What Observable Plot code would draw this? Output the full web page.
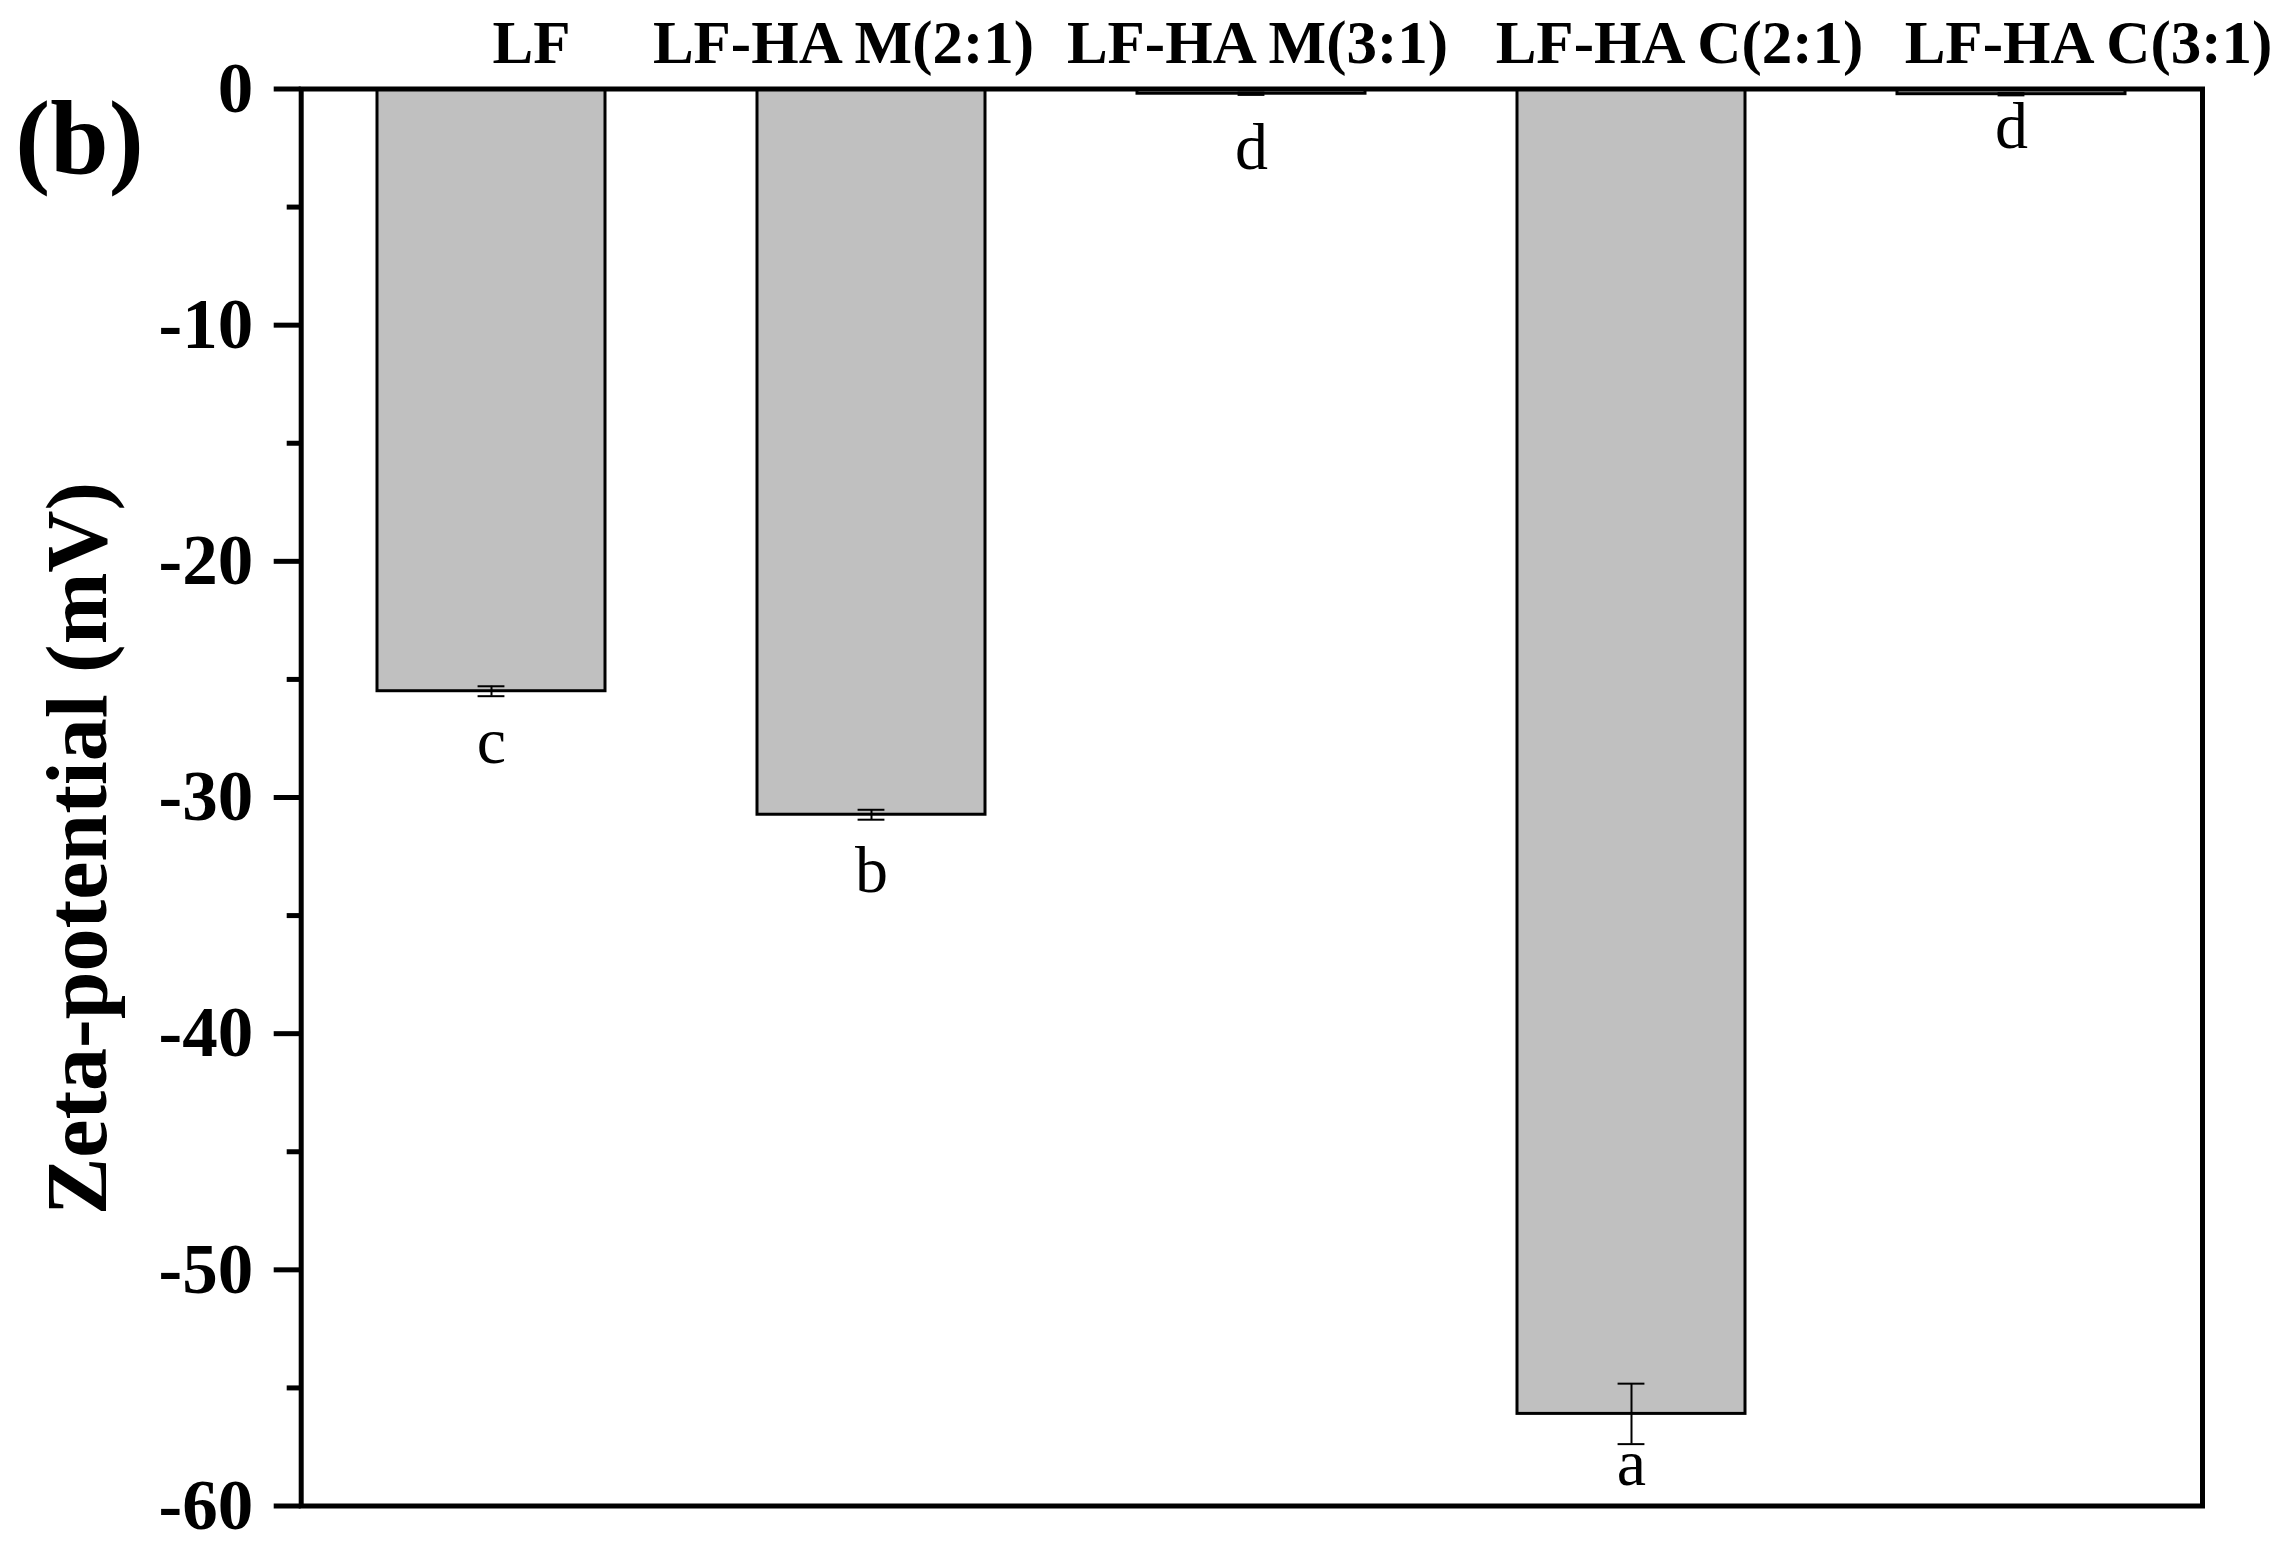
<!DOCTYPE html>
<html><head><meta charset="utf-8">
<script src="https://cdn.jsdelivr.net/npm/d3@7"></script>
<script src="https://cdn.jsdelivr.net/npm/@observablehq/plot@0.6"></script>
<style>html,body{margin:0;padding:0;background:#fff;}</style>
</head><body><div id="chart"></div>
<script>
// ---- data ----
const categories = ["LF", "LF-HA M(2:1)", "LF-HA M(3:1)", "LF-HA C(2:1)", "LF-HA C(3:1)"];
const zeta = [-25.5, -30.73, -0.2, -56.1, -0.22];
const errors = [0.21, 0.21, 0.05, 1.28, 0.05];
const letters = ["c", "b", "d", "a", "d"];
const letterY = [-28.56, -34.02, -3.37, -59.12, -2.48];   // baseline of each significance letter (data units)
const yTicks = [0, -10, -20, -30, -40, -50, -60];
const yMinorTicks = [-5, -15, -25, -35, -45, -55];
const yTitle = "Zeta-potential (mV)";
const panelLabel = "(b)";

const data = categories.map((c, i) => ({cat: c, v: zeta[i], e: errors[i], letter: letters[i], ly: letterY[i]}));

// ---- layout ----
const W = 2285, H = 1542, ML = 300.7, MR = 83, MT = 88.5, MB = 36.5;
const labelDx = [40, -28, 6, 48, 77];
const serif = "'Liberation Serif', 'Times New Roman', serif";
const bw = (W - ML - MR) / 5 * 0.6;
const capW = 27;
const inset = (bw - capW) / 2;

const chart = Plot.plot({
  width: W, height: H,
  marginLeft: ML, marginRight: MR, marginTop: MT, marginBottom: MB,
  style: {fontFamily: serif, background: "#fff", color: "#000", overflow: "visible"},
  x: {domain: categories, paddingInner: 0.4, paddingOuter: 0.2, axis: null},
  y: {domain: [-60, 0]},
  marks: [
    Plot.barY(data, {x: "cat", y: "v", fill: "#c0c0c0", stroke: "#000", strokeWidth: 3}),
    Plot.ruleX(data, {x: "cat", y1: d => d.v - d.e, y2: d => d.v + d.e, stroke: "#000", strokeWidth: 2}),
    Plot.tickY(data, {x: "cat", y: d => d.v - d.e, insetLeft: inset, insetRight: inset, stroke: "#000", strokeWidth: 2}),
    Plot.tickY(data, {x: "cat", y: d => d.v + d.e, insetLeft: inset, insetRight: inset, stroke: "#000", strokeWidth: 2}),
    Plot.text(data, {x: "cat", y: "ly", text: "letter", lineAnchor: "bottom", fontSize: 66, fontFamily: serif, fill: "#000"}),
    Plot.frame({stroke: "#000", strokeWidth: 5}),
    Plot.axisY(yTicks, {tickSize: 27, tickPadding: 21, tickFormat: d => String(d), fontSize: 71, fontWeight: "bold", strokeWidth: 5, label: null}),
    Plot.axisY(yMinorTicks, {tickSize: 14, tickFormat: () => "", strokeWidth: 5, label: null}),
    ...categories.map((c, i) => Plot.text([c], {
      x: d => d, frameAnchor: "top", dy: -26.5, dx: labelDx[i], lineAnchor: "bottom",
      textAnchor: "middle", fontSize: 61, fontWeight: "bold", fill: "#000"
    })),
    Plot.text([yTitle], {frameAnchor: "left", dx: -195.7, dy: 51, rotate: -90, textAnchor: "middle",
      lineAnchor: "bottom", fontSize: 86, fontWeight: "bold", fill: "#000"}),
    Plot.text([panelLabel], {frameAnchor: "top-left", dx: -221.7, dy: 84.5, textAnchor: "middle",
      lineAnchor: "bottom", fontSize: 105, fontWeight: "bold", fill: "#000"})
  ]
});
document.getElementById("chart").appendChild(chart);
</script>
</body></html>
